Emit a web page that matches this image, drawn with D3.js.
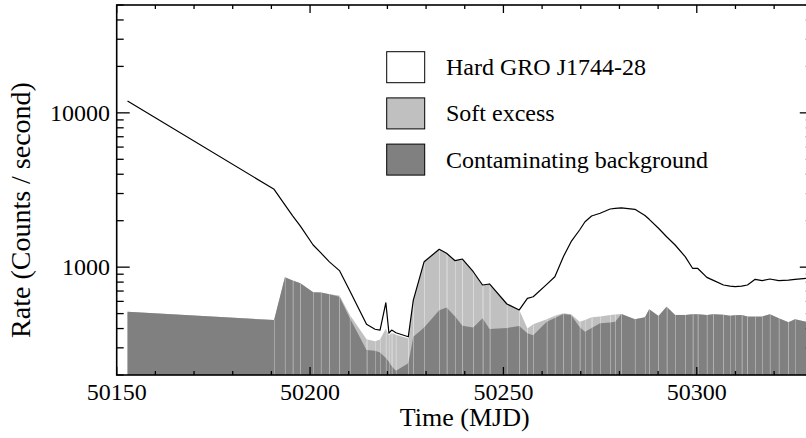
<!DOCTYPE html>
<html><head><meta charset="utf-8">
<script src="https://cdn.jsdelivr.net/npm/d3@7"></script>
<style>
body{margin:0;background:#fff}
svg{display:block}
text{font-family:"Liberation Serif","Times New Roman",serif;fill:#000}
</style>
</head><body>
<svg id="c" width="806" height="438"></svg>
<script>
// ---- data ----
const times = [50152.8,50190.7,50193.5,50195.5,50197.5,50200.8,50202.8,50205.0,50207.6,50210.3,
  50214.6,50216.8,50218.1,50219.6,50220.4,50221.1,50222.2,50225.4,50226.7,50229.5,
  50233.4,50235.3,50237.5,50239.4,50242.2,50244.6,50246.4,50250.9,50254.1,50256.2,
  50257.7,50261.2,50263.3,50265.5,50267.5,50269.7,50271.1,50272.8,50275.0,50277.6,
  50278.9,50280.5,50284.0,50286.6,50287.7,50290.1,50292.2,50294.4,50297.0,50298.9,
  50300.2,50302.6,50304.3,50306.9,50308.6,50309.9,50311.6,50313.1,50315.1,50316.9,
  50318.9,50321.2,50323.7,50325.4,50328.3,50330.0];
const background = [514,454,859,820,786,687,684,667,643,466,
  290,287,280,258,244,228,213,238,354,407,
  525,548,478,417,407,466,397,403,416,373,
  362,443,469,497,490,409,382,403,433,438,
  443,497,459,473,533,483,554,490,490,495,
  495,490,495,492,485,488,490,478,478,478,
  495,466,439,459,443,450];
const softExcess = [0,0,0,0,0,0,0,0,12,24,
  51,44,60,142,116,147,152,107,258,678,
  780,682,623,712,527,300,381,174,112,27,
  64,16,16,5,5,34,73,70,45,52,
  50,0,0,0,0,0,0,0,0,0,
  0,0,0,0,0,0,0,0,0,0,
  0,0,0,0,0,0];
const hardSource = [11426,2742,1671,1330,1059,705,553,415,295,211,
  85,65,51,188,13,16,11,9,0,0,
  0,0,0,0,0,0,0,0,0,228,
  217,315,382,667,967,1298,1515,1672,1756,1892,
  1912,1923,1912,1687,1509,1303,1021,902,679,488,
  488,369,326,274,268,259,263,288,356,339,
  343,351,386,375,404,400];
const xTickValues = [50150,50200,50250,50300];
const yTickValues = [1000,10000];
const legendLabels = ["Hard GRO J1744-28","Soft excess","Contaminating background"];
const legendColors = ["#ffffff","#c0c0c0","#808080"];
const xTitle = "Time (MJD)";
const yTitle = "Rate (Counts / second)";

// ---- layout ----
const m = {left:116.7, right:812.8, top:5, bottom:375};
const x = d3.scaleLinear().domain([50150,50330]).range([m.left,m.right]);
const y = d3.scaleLog().domain([200,50000]).range([m.bottom,m.top]);

const data = times.map((t,i)=>({t, bg:background[i], soft:softExcess[i], hard:hardSource[i]}));
const softTop = d => d.bg + d.soft;
const total = d => d.bg + d.soft + d.hard;

const svg = d3.select("#c");
svg.append("defs").append("clipPath").attr("id","clip")
  .append("rect").attr("x",m.left).attr("y",m.top)
  .attr("width",m.right-m.left).attr("height",m.bottom-m.top);
const plot = svg.append("g").attr("clip-path","url(#clip)");

function strips(acc, fill){
  const area = d3.area().x(d=>x(d.t)).y0(m.bottom).y1(d=>y(acc(d)));
  const g = plot.append("g").attr("fill",fill);
  for(let i=0;i<data.length-1;i++){
    g.append("path").attr("d", area(data.slice(i,i+2)));
  }
}
strips(total, legendColors[0]);
strips(softTop, legendColors[1]);
strips(d=>d.bg, legendColors[2]);

// seams between strips
plot.append("g").selectAll("line").data(data.slice(1,-1)).join("line")
  .attr("x1",d=>Math.round(x(d.t))+0.5).attr("x2",d=>Math.round(x(d.t))+0.5)
  .attr("y1",m.bottom).attr("y2",d=>y(softTop(d)))
  .attr("stroke","#fff").attr("stroke-opacity",0.27).attr("stroke-width",1);

// total (hard) outline
plot.append("path").datum(data)
  .attr("d", d3.line().x(d=>x(d.t)).y(d=>y(total(d))))
  .attr("fill","none").attr("stroke","#000").attr("stroke-width",1.2)
  .attr("stroke-linejoin","round");

// ---- axes ----
const ax = svg.append("g").attr("stroke","#000");
ax.append("rect").attr("x",m.left).attr("y",m.top)
  .attr("width",m.right-m.left).attr("height",m.bottom-m.top)
  .attr("fill","none").attr("stroke-width",1.6);

const yAll = y.ticks();
yAll.forEach(v=>{
  const major = yTickValues.includes(v);
  const len = major ? 13 : 7;
  const yy = y(v);
  ax.append("line").attr("x1",m.left).attr("x2",m.left+len).attr("y1",yy).attr("y2",yy).attr("stroke-width",1.3);
  ax.append("line").attr("x1",m.right).attr("x2",m.right-len).attr("y1",yy).attr("y2",yy).attr("stroke-width",1.3);
});
const xAll = d3.range(50150, 50331, 10);
xAll.forEach(t=>{
  const major = xTickValues.includes(t);
  const len = major ? 8 : 4;
  const xx = x(t);
  ax.append("line").attr("x1",xx).attr("x2",xx).attr("y1",m.bottom).attr("y2",m.bottom-len).attr("stroke-width",1.3);
  ax.append("line").attr("x1",xx).attr("x2",xx).attr("y1",m.top).attr("y2",m.top+len).attr("stroke-width",1.3);
});

svg.append("g").selectAll("text").data(xTickValues).join("text")
  .attr("x",d=>x(d)).attr("y",400).attr("text-anchor","middle")
  .attr("font-size",24).text(d=>d);
svg.append("g").selectAll("text").data(yTickValues).join("text")
  .attr("x",110).attr("y",d=>y(d)+8).attr("text-anchor","end")
  .attr("font-size",24).text(d=>d);

svg.append("text").attr("x",(m.left+m.right)/2).attr("y",426)
  .attr("text-anchor","middle").attr("font-size",26).text(xTitle);
svg.append("text").attr("transform","translate(30,210) rotate(-90)")
  .attr("text-anchor","middle").attr("font-size",28).text(yTitle);

// ---- legend ----
const lg = svg.append("g").selectAll("g").data(legendLabels).join("g")
  .attr("transform",(d,i)=>`translate(386.7,${51.7+i*46.2})`);
lg.append("rect").attr("width",38).attr("height",31)
  .attr("fill",(d,i)=>legendColors[i]).attr("stroke","#000").attr("stroke-width",1);
lg.append("text").attr("x",59.3).attr("y",23.5).attr("font-size",24).text(d=>d);
</script>
</body></html>
